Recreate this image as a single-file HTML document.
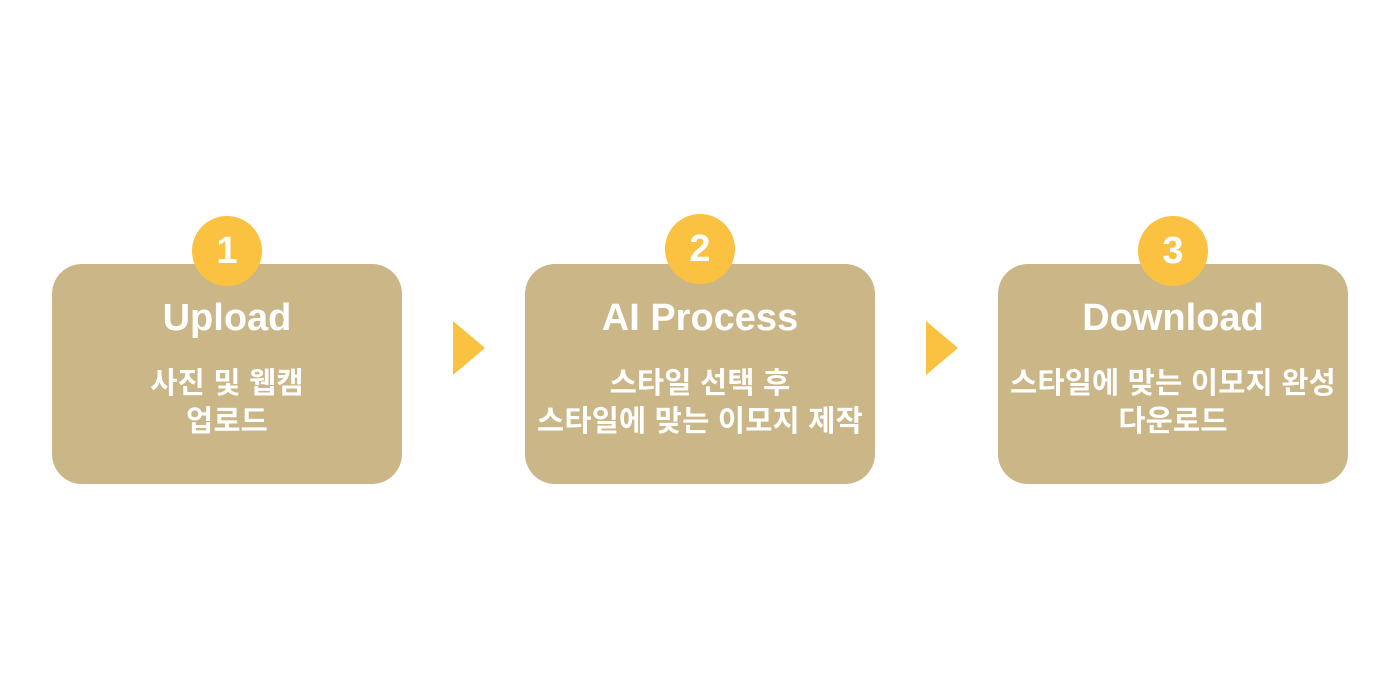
<!DOCTYPE html>
<html><head><meta charset="utf-8"><style>
body{margin:0;width:1400px;height:700px;background:#fff;position:relative;overflow:hidden;font-family:"Liberation Sans","Noto Sans CJK KR",sans-serif;}
.box{position:absolute;top:264px;width:350px;height:220px;background:#cbb688;border-radius:30px;color:#fff;text-align:center;}
.t{position:absolute;top:32px;left:0;right:0;font-size:38px;font-weight:bold;line-height:44px;}
.d{position:absolute;top:101px;left:-20px;right:-20px;font-size:29.5px;font-weight:bold;line-height:38px;letter-spacing:0.2px;}
.c{position:absolute;top:216px;width:70px;height:70px;border-radius:50%;background:#fbc140;color:#fff;font-weight:bold;font-size:38px;line-height:70px;text-align:center;}
.a{position:absolute;top:321px;width:0;height:0;border-top:27.5px solid transparent;border-bottom:27.5px solid transparent;border-left:32px solid #fbc140;}
</style></head><body>
<div class="box" style="left:52px"><div class="t">Upload</div><div class="d">사진 및 웹캠<br>업로드</div></div>
<div class="box" style="left:525px"><div class="t">AI Process</div><div class="d">스타일 선택 후<br>스타일에 맞는 이모지 제작</div></div>
<div class="box" style="left:998px"><div class="t">Download</div><div class="d">스타일에 맞는 이모지 완성<br>다운로드</div></div>
<div class="c" style="left:192px">1</div>
<div class="c" style="left:665px;top:214px">2</div>
<div class="c" style="left:1138px">3</div>
<div class="a" style="left:453px"></div>
<div class="a" style="left:926px"></div>
</body></html>
